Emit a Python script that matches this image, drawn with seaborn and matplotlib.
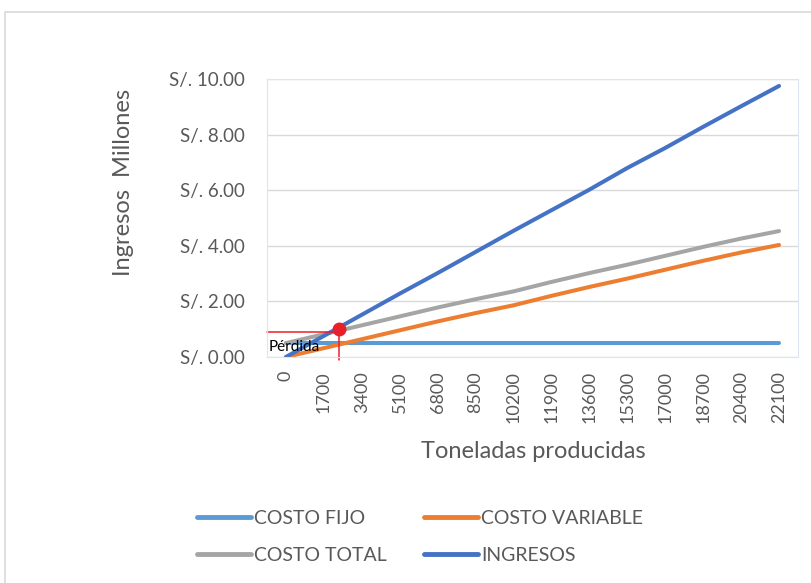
import matplotlib
matplotlib.use("Agg")
import matplotlib.pyplot as plt
import seaborn as sns
import pandas as pd
from matplotlib.patches import Rectangle

# data (millions of soles)
toneladas = [0, 1700, 3400, 5100, 6800, 8500, 10200, 11900, 13600, 15300, 17000, 18700, 20400, 22100]
costo_fijo = [0.50] * 14
costo_variable = [0.00, 0.32, 0.64, 0.96, 1.28, 1.58, 1.86, 2.20, 2.52, 2.82, 3.14, 3.46, 3.76, 4.03]
costo_total = [0.50, 0.82, 1.14, 1.46, 1.78, 2.08, 2.36, 2.70, 3.02, 3.32, 3.64, 3.96, 4.26, 4.53]
ingresos = [0.00, 0.76, 1.52, 2.28, 3.02, 3.78, 4.54, 5.28, 6.02, 6.80, 7.52, 8.28, 9.02, 9.75]
series = ["COSTO FIJO", "COSTO VARIABLE", "COSTO TOTAL", "INGRESOS"]
colores = ["#5B9BD5", "#ED7D31", "#A5A5A5", "#4472C4"]
y_ticks = [0, 2, 4, 6, 8, 10]
# break-even point (category position, value)
punto_eq = (1.4, 1.0)

sns.set_style("white")
plt.rcParams['font.family'] = ['Lato', 'DejaVu Sans']

rows = []
for nombre, vals in zip(series, [costo_fijo, costo_variable, costo_total, ingresos]):
    for i, v in enumerate(vals):
        rows.append({"pos": i, "valor": v, "serie": nombre})
df = pd.DataFrame(rows)

fig = plt.figure(figsize=(8.11, 5.83), dpi=100)
fig.patches.append(Rectangle((5 / 811, -0.01), 1.0, 1 - 12 / 583 + 0.01, transform=fig.transFigure,
                             fill=False, edgecolor="#d9d9d9", linewidth=1.2))
ax = fig.add_axes([267 / 811, 1 - 357 / 583, (798 - 267) / 811, (357 - 79) / 583])

sns.lineplot(data=df, x="pos", y="valor", hue="serie", hue_order=series, palette=colores,
             linewidth=2.9, ax=ax, legend=False, solid_capstyle="round")

ax.set_xlim(-0.5, len(toneladas) - 0.5)
ax.set_ylim(0, 10)
ax.set_yticks(y_ticks)
ax.set_yticklabels([f"S/. {v:.2f}" for v in y_ticks])
ax.set_xticks(range(len(toneladas)))
ax.set_xticklabels([str(t) for t in toneladas], rotation=90)
ax.tick_params(axis="y", length=0, pad=16, labelsize=13.5, labelcolor="#595959")
ax.tick_params(axis="x", length=0, pad=10, labelsize=13, labelcolor="#595959")
ax.grid(axis="y", color="#d9d9d9", linewidth=1)
ax.set_axisbelow(True)
for s in ax.spines.values():
    s.set_color("#dce6f2")
    s.set_linewidth(0.8)
ax.set_xlabel("")
ax.set_ylabel("")

# break-even marker and guide lines
ax.plot([-0.5, punto_eq[0]], [punto_eq[1] - 0.1, punto_eq[1] - 0.1], color="#e8202a", lw=1.1, clip_on=False)
ax.plot([punto_eq[0], punto_eq[0]], [punto_eq[1], -0.12], color="#e8202a", lw=1.1, clip_on=False)
ax.plot([punto_eq[0]], [punto_eq[1]], "o", color="#e8202a", markersize=9, zorder=5)
ax.text(-0.45, 0.36, "Pérdida", fontsize=11, color="black", va="center", ha="left", zorder=6)

fig.text(533 / 811, 1 - 452 / 583, "Toneladas producidas", fontsize=17, color="#595959",
         ha="center", va="center")
fig.text(123 / 811, 1 - 182 / 583, "Ingresos  Millones", fontsize=17, color="#595959",
         ha="center", va="center", rotation=90)

handles = [plt.Line2D([], [], color=c, lw=3.5) for c in colores]
orden = [0, 2, 1, 3]
fig.legend([handles[i] for i in orden], [series[i] for i in orden], ncol=2, frameon=False,
           loc="center", bbox_to_anchor=(420 / 811, 1 - 537 / 583), fontsize=14,
           labelcolor="#595959", handlelength=2.8, handletextpad=0.15, columnspacing=1.9,
           labelspacing=1.05)

fig.savefig("out.png", dpi=100)
